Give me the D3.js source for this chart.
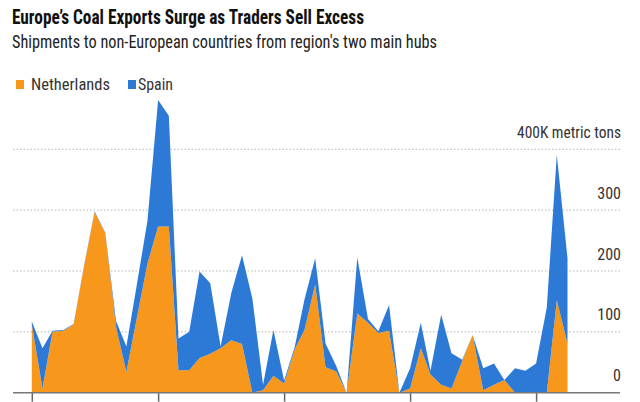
<!DOCTYPE html>
<html>
<head>
<meta charset="utf-8">
<script src="https://cdn.jsdelivr.net/npm/d3@7"></script>
<style>
  html, body { margin: 0; padding: 0; background: #fff; }
  svg { display: block; }
  text { font-family: "Liberation Sans Narrow", "Roboto Condensed", "Arial Narrow", "Liberation Sans", sans-serif; }
</style>
</head>
<body>
<svg id="chart" width="640" height="402"></svg>
<script>
// ---- Data (monthly, Jan 2016 – Apr 2020), thousand metric tons ----
const months = [
  "2016-01","2016-02","2016-03","2016-04","2016-05","2016-06","2016-07","2016-08","2016-09","2016-10","2016-11","2016-12",
  "2017-01","2017-02","2017-03","2017-04","2017-05","2017-06","2017-07","2017-08","2017-09","2017-10","2017-11","2017-12",
  "2018-01","2018-02","2018-03","2018-04","2018-05","2018-06","2018-07","2018-08","2018-09","2018-10","2018-11","2018-12",
  "2019-01","2019-02","2019-03","2019-04","2019-05","2019-06","2019-07","2019-08","2019-09","2019-10","2019-11","2019-12",
  "2020-01","2020-02","2020-03","2020-04"
];
const netherlands = [
  112, 7, 100, 102, 112, 210, 297, 262, 108, 34, 125, 212,
  273, 273, 37, 37, 57, 64, 73, 86, 80, 0, 4, 28,
  15, 72, 103, 178, 42, 35, 0, 130, 115, 98, 102, 0,
  7, 73, 30, 13, 7, 52, 95, 4, 13, 21, 0, 0,
  0, 0, 152, 81
];
const spain = [
  5, 66, 2, 1, 1, 1, 1, 1, 10, 42, 55, 70,
  208, 182, 52, 63, 142, 116, 3, 78, 146, 155, 9, 75,
  5, 4, 50, 43, 39, 9, 0, 92, 6, 3, 42, 0,
  33, 42, 6, 115, 58, 2, 0, 36, 35, 0, 40, 36,
  48, 140, 239, 140
];
const seriesNames = ["Netherlands", "Spain"];
const seriesColors = ["#F7981D", "#2D7AD6"];
const yTicks = [0, 100, 200, 300, 400];
const yTickLabels = ["0", "100", "200", "300", "400K metric tons"];
const title = "Europe\u2019s Coal Exports Surge as Traders Sell Excess";
const subtitle = "Shipments to non-European countries from region's two main hubs";

// ---- Build table ----
const parse = d3.utcParse("%Y-%m");
const table = months.map((m, i) => ({ date: parse(m), Netherlands: netherlands[i], Spain: spain[i] }));

const svg = d3.select("#chart");

const x = d3.scaleUtc()
  .domain([parse("2016-01"), parse("2020-04")])
  .range([31.8, 567.5]);
const y = d3.scaleLinear().domain([0, 400]).range([392.7, 149.3]);

const gridLeft = 13, gridRight = 620;

// Title & subtitle
svg.append("text").attr("x", 12).attr("y", 24)
  .attr("font-size", 20).attr("font-weight", "bold").attr("fill", "#111")
  .attr("textLength", 352).attr("lengthAdjust", "spacingAndGlyphs")
  .text(title);
svg.append("text").attr("x", 12).attr("y", 47.5)
  .attr("font-size", 19).attr("fill", "#222")
  .attr("textLength", 425).attr("lengthAdjust", "spacingAndGlyphs")
  .text(subtitle);

// Legend
const legend = [
  { name: seriesNames[0], color: seriesColors[0], sx: 16, tx: 31, tw: 79 },
  { name: seriesNames[1], color: seriesColors[1], sx: 128, tx: 138, tw: 35 }
];
legend.forEach(l => {
  svg.append("rect").attr("x", l.sx).attr("y", 80).attr("width", 8).attr("height", 9).attr("fill", l.color);
  svg.append("text").attr("x", l.tx).attr("y", 89.5)
    .attr("font-size", 17).attr("fill", "#333")
    .attr("textLength", l.tw).attr("lengthAdjust", "spacingAndGlyphs")
    .text(l.name);
});

// Gridlines (dotted)
svg.append("g").selectAll("line")
  .data(yTicks.filter(t => t > 0))
  .join("line")
  .attr("x1", gridLeft).attr("x2", gridRight)
  .attr("y1", d => y(d)).attr("y2", d => y(d))
  .attr("stroke", "#b5b5b5").attr("stroke-width", 1)
  .attr("stroke-dasharray", "1.5,2");

// Stacked areas
const stack = d3.stack().keys(seriesNames);
const layers = stack(table);
const area = d3.area()
  .x(d => x(d.data.date))
  .y0(d => y(d[0]))
  .y1(d => y(d[1]));
svg.append("g").selectAll("path")
  .data(layers)
  .join("path")
  .attr("d", area)
  .attr("fill", (d, i) => seriesColors[i]);

// Y labels (right, above gridlines)
svg.append("g").selectAll("text")
  .data(yTicks)
  .join("text")
  .attr("x", 621)
  .attr("y", d => y(d) - 11.5)
  .attr("text-anchor", "end")
  .attr("font-size", 16)
  .attr("fill", "#333")
  .each(function (d, i) {
    const t = d3.select(this).text(yTickLabels[i]);
    if (d === 400) t.attr("textLength", 104).attr("lengthAdjust", "spacingAndGlyphs");
  });

// X axis baseline and ticks
const xAxis = d3.axisBottom(x)
  .ticks(d3.utcYear.every(1))
  .tickSize(9)
  .tickFormat("");
const gx = svg.append("g").attr("transform", `translate(0,${y(0)})`).call(xAxis);
gx.select(".domain").remove();
gx.selectAll(".tick line").attr("stroke", "#666").attr("stroke-width", 1.5);
svg.append("line")
  .attr("x1", gridLeft).attr("x2", gridRight)
  .attr("y1", y(0)).attr("y2", y(0))
  .attr("stroke", "#777").attr("stroke-width", 1.5);
</script>
</body>
</html>
